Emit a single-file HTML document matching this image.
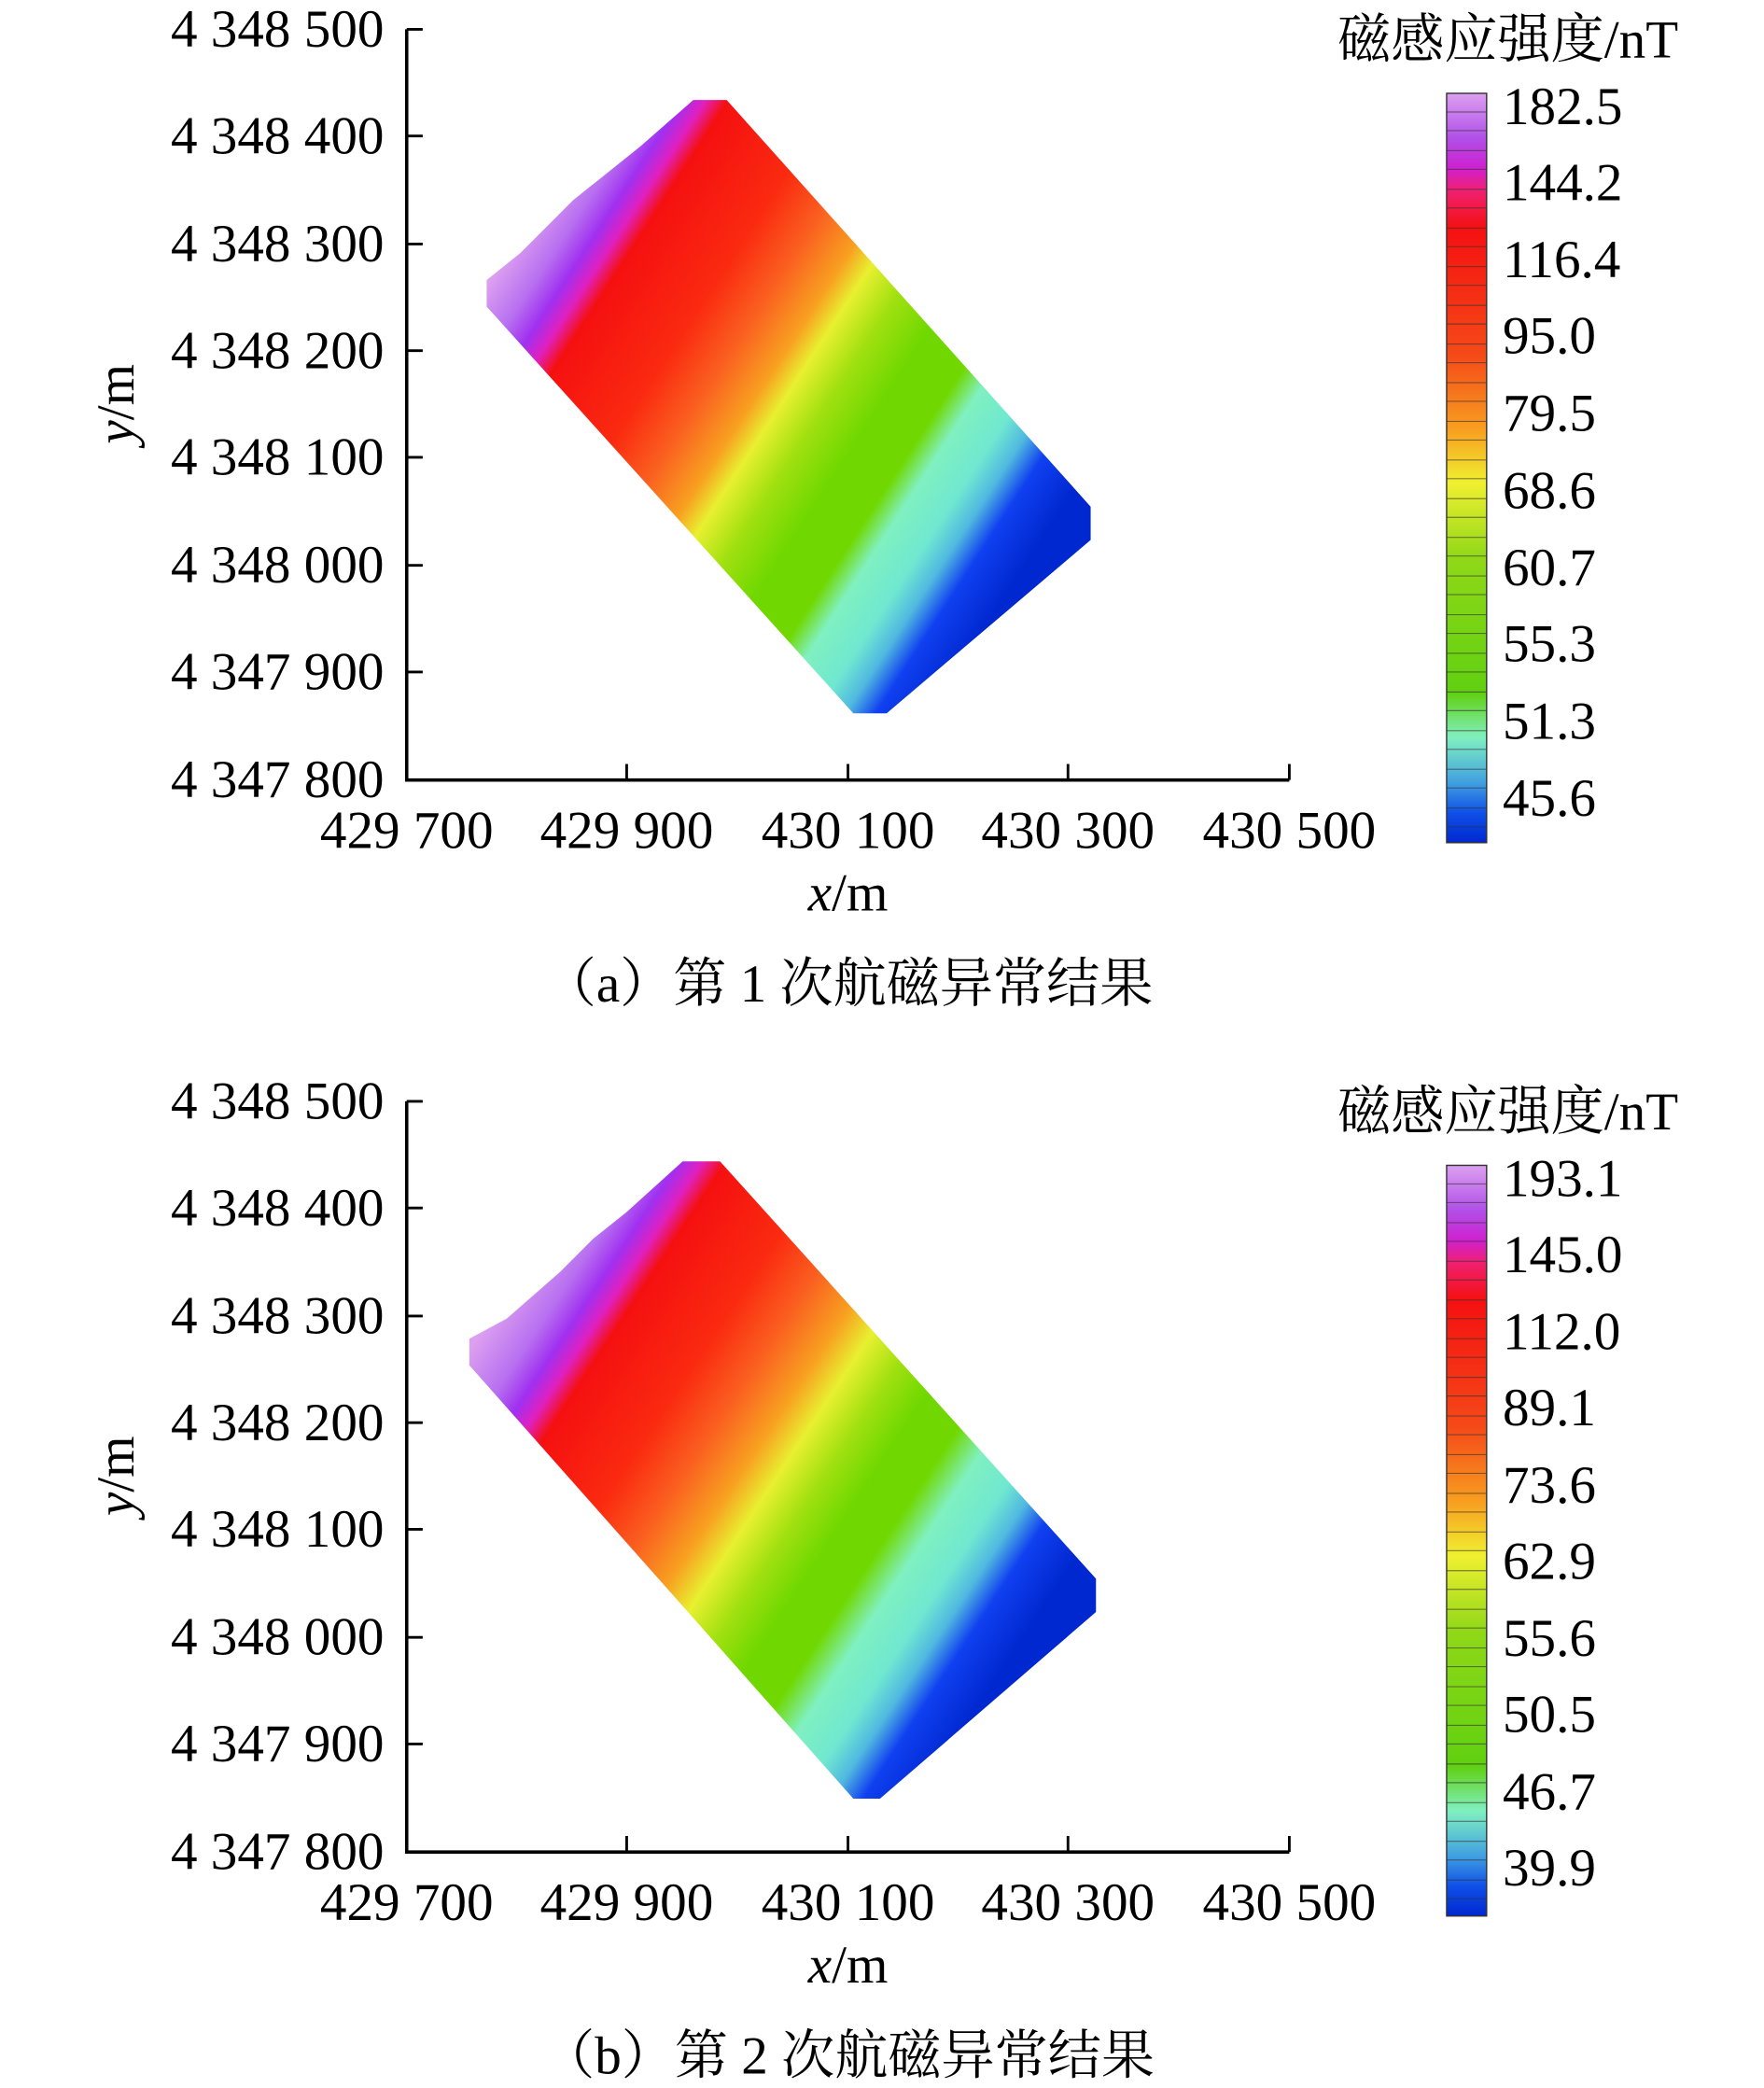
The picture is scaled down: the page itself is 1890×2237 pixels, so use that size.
<!DOCTYPE html>
<html><head><meta charset="utf-8"><style>html,body{margin:0;padding:0;background:#fff}svg{display:block}</style></head>
<body>
<svg width="1890" height="2237" viewBox="0 0 1323 1566" xmlns="http://www.w3.org/2000/svg" font-family="'Liberation Serif','Noto Serif CJK SC',serif">
<defs>
<linearGradient id="ga" gradientUnits="userSpaceOnUse" x1="400" y1="160" x2="800" y2="420">
<stop offset="0" stop-color="#dca0f0"/><stop offset="0.06" stop-color="#b870f0"/><stop offset="0.1" stop-color="#a030f0"/><stop offset="0.13" stop-color="#e020c0"/><stop offset="0.16" stop-color="#f51010"/><stop offset="0.3" stop-color="#fa2a10"/><stop offset="0.38" stop-color="#fa6020"/><stop offset="0.45" stop-color="#f8a020"/><stop offset="0.49" stop-color="#e8f030"/><stop offset="0.55" stop-color="#a0e010"/><stop offset="0.62" stop-color="#70d800"/><stop offset="0.7" stop-color="#70d800"/><stop offset="0.74" stop-color="#80f0c0"/><stop offset="0.8" stop-color="#70e8d0"/><stop offset="0.84" stop-color="#50b8e0"/><stop offset="0.88" stop-color="#1040f0"/><stop offset="0.95" stop-color="#0028d0"/>
</linearGradient>
<linearGradient id="gb" gradientUnits="userSpaceOnUse" x1="390" y1="150" x2="800" y2="420">
<stop offset="0" stop-color="#dca0f0"/><stop offset="0.07" stop-color="#b870f0"/><stop offset="0.11" stop-color="#a030f0"/><stop offset="0.14" stop-color="#e020c0"/><stop offset="0.17" stop-color="#f51010"/><stop offset="0.3" stop-color="#fa2a10"/><stop offset="0.38" stop-color="#fa6020"/><stop offset="0.45" stop-color="#f8a020"/><stop offset="0.5" stop-color="#e8f030"/><stop offset="0.56" stop-color="#a0e010"/><stop offset="0.62" stop-color="#70d800"/><stop offset="0.69" stop-color="#70d800"/><stop offset="0.74" stop-color="#80f0c0"/><stop offset="0.8" stop-color="#70e8d0"/><stop offset="0.84" stop-color="#50b8e0"/><stop offset="0.88" stop-color="#1040f0"/><stop offset="0.95" stop-color="#0028d0"/>
</linearGradient>
<linearGradient id="cb" x1="0" y1="0" x2="0" y2="1">
<stop offset="0" stop-color="#dca0f0"/><stop offset="0.06" stop-color="#b050e8"/><stop offset="0.1" stop-color="#d020d0"/><stop offset="0.13" stop-color="#f02070"/><stop offset="0.18" stop-color="#f51010"/><stop offset="0.35" stop-color="#f54a18"/><stop offset="0.45" stop-color="#f8a020"/><stop offset="0.52" stop-color="#f0f030"/><stop offset="0.62" stop-color="#90d818"/><stop offset="0.8" stop-color="#60d010"/><stop offset="0.86" stop-color="#80f0c0"/><stop offset="0.92" stop-color="#40a0e0"/><stop offset="0.96" stop-color="#1050e8"/><stop offset="1" stop-color="#0028d0"/>
</linearGradient>
</defs>
<polygon points="365,210 390,190 430,150 455,130 480,110 520,75 545,75 818,380 818,405 665,535 640,535 365,230" fill="url(#ga)"/>
<polygon transform="translate(0,804)" points="352,200 380,185 420,150 445,125 470,105 512,67 540,67 822,380 822,405 660,545 640,545 352,220" fill="url(#gb)"/>
<g stroke="#000" stroke-width="2.5" fill="none">
<path d="M305,22 V585 H967"/><path d="M305,826 V1389 H967"/>
</g>
<g stroke="#000" stroke-width="2">
<path d="M305,22h12M305,102h12M305,183h12M305,263h12M305,343h12M305,424h12M305,504h12"/>
<path d="M470,585v-12M636,585v-12M801,585v-12M967,585v-12"/>
<path d="M305,826h12M305,906h12M305,987h12M305,1067h12M305,1147h12M305,1228h12M305,1308h12"/>
<path d="M470,1389v-12M636,1389v-12M801,1389v-12M967,1389v-12"/>
</g>
<g font-size="40" text-anchor="end">
<text x="288" y="35">4 348 500</text><text x="288" y="115">4 348 400</text><text x="288" y="196">4 348 300</text><text x="288" y="276">4 348 200</text><text x="288" y="356">4 348 100</text><text x="288" y="437">4 348 000</text><text x="288" y="517">4 347 900</text><text x="288" y="598">4 347 800</text>
<text x="288" y="839">4 348 500</text><text x="288" y="919">4 348 400</text><text x="288" y="1000">4 348 300</text><text x="288" y="1080">4 348 200</text><text x="288" y="1160">4 348 100</text><text x="288" y="1241">4 348 000</text><text x="288" y="1321">4 347 900</text><text x="288" y="1402">4 347 800</text>
</g>
<g font-size="40" text-anchor="middle">
<text x="305" y="636">429 700</text><text x="470" y="636">429 900</text><text x="636" y="636">430 100</text><text x="801" y="636">430 300</text><text x="967" y="636">430 500</text>
<text x="305" y="1440">429 700</text><text x="470" y="1440">429 900</text><text x="636" y="1440">430 100</text><text x="801" y="1440">430 300</text><text x="967" y="1440">430 500</text>
<text x="636" y="683"><tspan font-style="italic">x</tspan>/m</text>
<text x="636" y="1487"><tspan font-style="italic">x</tspan>/m</text>
<text transform="translate(100,303) rotate(-90)"><tspan font-style="italic">y</tspan>/m</text>
<text transform="translate(100,1107) rotate(-90)"><tspan font-style="italic">y</tspan>/m</text>
<text x="636" y="751">（a）第 1 次航磁异常结果</text>
<text x="636" y="1555">（b）第 2 次航磁异常结果</text>
<text x="1131" y="43">磁感应强度/nT</text>
<text x="1131" y="847">磁感应强度/nT</text>
</g>
<rect x="1085" y="70" width="30" height="562" fill="url(#cb)" stroke="#333" stroke-width="1"/>
<rect x="1085" y="874" width="30" height="563" fill="url(#cb)" stroke="#333" stroke-width="1"/>
<g stroke="#333" stroke-width="0.8" opacity="0.6">
<path d="M1085,84h30M1085,98h30M1085,113h30M1085,127h30M1085,142h30M1085,156h30M1085,171h30M1085,185h30M1085,200h30M1085,214h30M1085,229h30M1085,243h30M1085,258h30M1085,272h30M1085,287h30M1085,301h30M1085,316h30M1085,330h30M1085,345h30M1085,359h30M1085,374h30M1085,388h30M1085,403h30M1085,417h30M1085,432h30M1085,446h30M1085,461h30M1085,475h30M1085,490h30M1085,504h30M1085,519h30M1085,533h30M1085,548h30M1085,562h30M1085,577h30M1085,591h30M1085,606h30M1085,620h30"/>
<path transform="translate(0,804)" d="M1085,84h30M1085,98h30M1085,113h30M1085,127h30M1085,142h30M1085,156h30M1085,171h30M1085,185h30M1085,200h30M1085,214h30M1085,229h30M1085,243h30M1085,258h30M1085,272h30M1085,287h30M1085,301h30M1085,316h30M1085,330h30M1085,345h30M1085,359h30M1085,374h30M1085,388h30M1085,403h30M1085,417h30M1085,432h30M1085,446h30M1085,461h30M1085,475h30M1085,490h30M1085,504h30M1085,519h30M1085,533h30M1085,548h30M1085,562h30M1085,577h30M1085,591h30M1085,606h30M1085,620h30"/>
</g>
<g font-size="40">
<text x="1127" y="93">182.5</text><text x="1127" y="150">144.2</text><text x="1127" y="208">116.4</text><text x="1127" y="265">95.0</text><text x="1127" y="323">79.5</text><text x="1127" y="381">68.6</text><text x="1127" y="439">60.7</text><text x="1127" y="496">55.3</text><text x="1127" y="554">51.3</text><text x="1127" y="612">45.6</text>
<text x="1127" y="897">193.1</text><text x="1127" y="954">145.0</text><text x="1127" y="1012">112.0</text><text x="1127" y="1069">89.1</text><text x="1127" y="1127">73.6</text><text x="1127" y="1184">62.9</text><text x="1127" y="1242">55.6</text><text x="1127" y="1299">50.5</text><text x="1127" y="1357">46.7</text><text x="1127" y="1414">39.9</text>
</g>
</svg>
</body></html>
